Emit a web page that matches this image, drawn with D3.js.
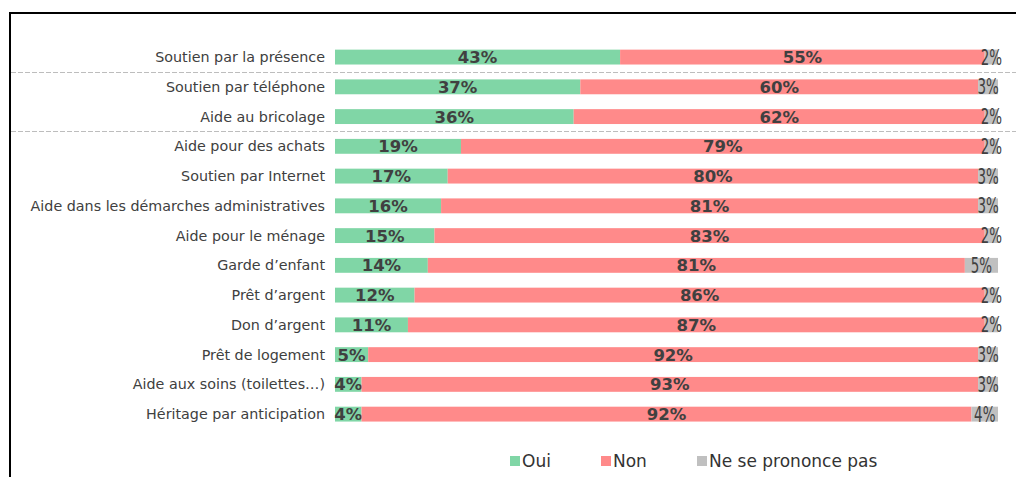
<!DOCTYPE html>
<html><head><meta charset="utf-8">
<script src="https://cdn.jsdelivr.net/npm/d3@7"></script>
<style>body{margin:0;background:#fff}svg{display:block}</style>
</head><body>
<script>
const categories = ["Soutien par la présence","Soutien par téléphone","Aide au bricolage","Aide pour des achats","Soutien par Internet","Aide dans les démarches administratives","Aide pour le ménage","Garde d’enfant","Prêt d’argent","Don d’argent","Prêt de logement","Aide aux soins (toilettes…)","Héritage par anticipation"];
const oui = [43,37,36,19,17,16,15,14,12,11,5,4,4];
const non = [55,60,62,79,80,81,83,81,86,87,92,93,92];
const nsp = [2,3,2,2,3,3,2,5,2,2,3,3,4];
const seriesNames = ["Oui","Non","Ne se prononce pas"];
const colors = ["#80D6A6","#FF8A8A","#C0C0C0"];
const separatorsAfter = [0,2];

const W=1016,H=477;
const svg=d3.select("body").append("svg").attr("width",W).attr("height",H);
// frame
svg.append("path").attr("d","M10,477 V13 H1016").attr("fill","none").attr("stroke","#000").attr("stroke-width",2);

const x=d3.scaleLinear().domain([0,100]).range([335,998]);
const y=d3.scaleBand().domain(categories).range([42.2,429]).paddingInner(0.5).paddingOuter(0.25);
const step=y.step();

const rows=categories.map((c,i)=>({c,vals:[oui[i],non[i],nsp[i]]}));
const stack=d3.stack().keys([0,1,2]).value((d,k)=>d.vals[k])(rows);

// separators
separatorsAfter.forEach(i=>{
  const yy=Math.round(y(categories[i])+y.bandwidth()/2+step/2)+0.5;
  svg.append("line").attr("x1",11).attr("x2",1016).attr("y1",yy).attr("y2",yy)
    .attr("stroke","#bdbdbd").attr("stroke-dasharray","5,2").attr("stroke-width",1);
});

// category labels
svg.append("g").selectAll("text").data(categories).join("text")
  .attr("x",325).attr("y",d=>y(d)+y.bandwidth()/2).attr("dy","0.35em")
  .attr("text-anchor","end").attr("font-family","DejaVu Sans, Verdana, sans-serif")
  .attr("font-size",14.3).attr("fill","#404040").text(d=>d);

stack.forEach((layer,k)=>{
  const g=svg.append("g");
  g.selectAll("rect").data(layer).join("rect")
    .attr("x",d=>x(d[0])).attr("width",d=>x(d[1])-x(d[0]))
    .attr("y",d=>y(d.data.c)).attr("height",y.bandwidth())
    .attr("fill",colors[k]);
  const t=g.selectAll("text").data(layer).join("text")
    .attr("text-anchor","middle").attr("font-family","DejaVu Sans, Verdana, sans-serif")
    .attr("fill","#404040").text(d=>(d[1]-d[0])+"%");
  if(k<2){
    t.attr("x",d=>(x(d[0])+x(d[1]))/2).attr("y",d=>y(d.data.c)+y.bandwidth()/2).attr("dy","0.36em")
     .attr("font-size",16.5).attr("font-weight","bold");
  } else {
    t.attr("transform",d=>`translate(${(x(d[0])+x(d[1]))/2},${y(d.data.c)+y.bandwidth()/2}) scale(0.64,1)`)
     .attr("dy","0.36em").attr("font-size",21).attr("font-weight","normal");
  }
});

// legend
const lg=svg.append("g").attr("font-family","DejaVu Sans, Verdana, sans-serif").attr("font-size",17).attr("fill","#333");
const lx=[510,601,697];
seriesNames.forEach((n,i)=>{
  lg.append("rect").attr("x",lx[i]).attr("y",456).attr("width",10).attr("height",10).attr("fill",colors[i]);
  lg.append("text").attr("x",lx[i]+12).attr("y",461).attr("dy","0.36em").attr("fill","#333").text(n);
});
</script>
</body></html>
